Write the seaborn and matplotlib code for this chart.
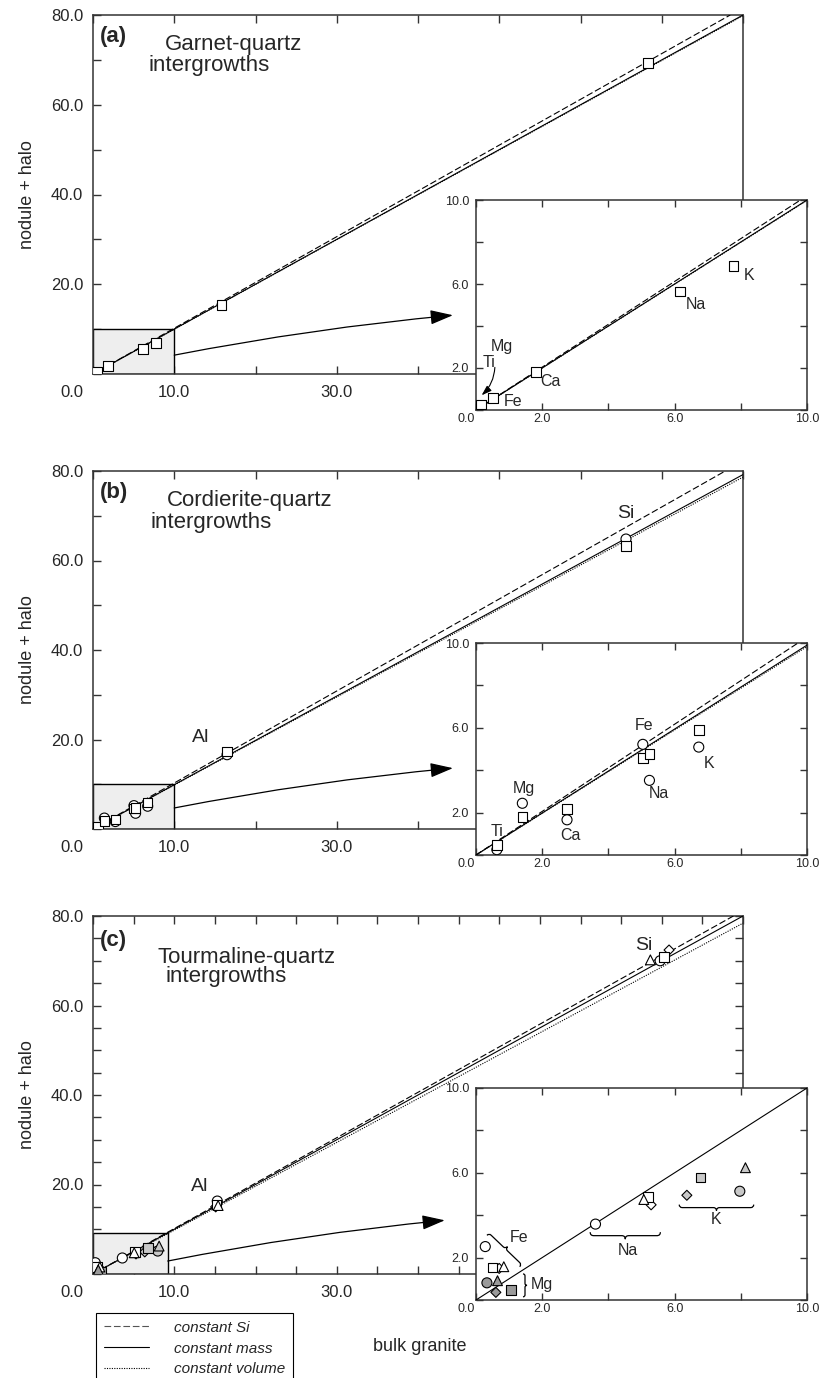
import numpy as np
import pandas as pd
import matplotlib
matplotlib.use("Agg")
import matplotlib.pyplot as plt
import seaborn as sns
from matplotlib.patches import Rectangle, PathPatch
from matplotlib.path import Path
from matplotlib.lines import Line2D
from matplotlib.ticker import MultipleLocator

sns.set_theme(style="ticks")
plt.rcParams["font.family"] = ["Liberation Sans", "DejaVu Sans"]

# (a) garnet-quartz intergrowths: bulk granite vs nodule + halo
a_elements = ["Ti", "Mg", "Fe", "Ca", "Na", "K", "Al", "Si"]
a_bulk = [0.08, 0.16, 0.51, 1.81, 6.16, 7.78, 15.8, 68.3]
a_nodule = [0.08, 0.27, 0.57, 1.81, 5.64, 6.87, 15.4, 69.3]

# (b) cordierite-quartz intergrowths, two samples (circle, square)
b_elements = ["Ti", "Mg", "Ca", "Fe", "Na", "K", "Al", "Si"]
b_bulk = [0.63, 1.40, 2.75, 5.04, 5.24, 6.73, 16.5, 65.6]
b_circle = [0.25, 2.44, 1.66, 5.22, 3.52, 5.09, 16.6, 64.8]
b_square = [0.48, 1.78, 2.16, 4.59, 4.75, 5.91, 17.3, 63.3]

# (c) tourmaline-quartz intergrowths, four samples
c_elements = ["Fe", "Mg", "Na", "K", "Al", "Si"]
c_fill = ["open", "dark", "open", "light", "open", "open"]
c_circle_x = [0.28, 0.33, 3.61, 7.97, 15.3, 69.8]
c_circle_y = [2.52, 0.81, 3.58, 5.13, 16.3, 70.0]
c_square_x = [0.50, 1.06, 5.20, 6.78, 15.2, 70.3]
c_square_y = [1.53, 0.47, 4.85, 5.77, 15.5, 70.8]
c_diamond_x = [0.70, 0.60, 5.29, 6.37, 15.1, 70.9]
c_diamond_y = [1.49, 0.36, 4.49, 4.94, 15.0, 72.4]
c_triangle_x = [0.84, 0.65, 5.07, 8.14, 15.4, 68.6]
c_triangle_y = [1.57, 0.91, 4.74, 6.24, 15.3, 70.2]

# isocon slopes: constant Si, constant mass, constant volume
a_slopes = [1.02, 1.0, 0.998]
b_slopes = [1.028, 0.99, 0.983]
c_slopes = [1.015, 1.0, 0.98]

fill_colors = {"open": "white", "dark": "#9a9a9a", "light": "#c8c8c8"}
line_styles = [(0, (6, 2.5)), "-", (0, (1, 1.2))]
legend_labels = ["constant Si", "constant mass", "constant volume"]

FW, FH = 835, 1378
fig = plt.figure(figsize=(FW / 100, FH / 100), dpi=100)


def rect(l, t, r, b):
    return [l / FW, 1 - b / FH, (r - l) / FW, (b - t) / FH]


def frame(x, y, elements, sample, fill):
    return pd.DataFrame({"x": x, "y": y, "element": elements,
                         "sample": sample, "fill": fill})


df_a = frame(a_bulk, a_nodule, a_elements, "square", "open")
df_b = pd.concat([frame(b_bulk, b_circle, b_elements, "circle", "open"),
                  frame(b_bulk, b_square, b_elements, "square", "open")])
df_c = pd.concat([
    frame(c_circle_x, c_circle_y, c_elements, "circle", c_fill),
    frame(c_square_x, c_square_y, c_elements, "square", c_fill),
    frame(c_diamond_x, c_diamond_y, c_elements, "diamond", c_fill),
    frame(c_triangle_x, c_triangle_y, c_elements, "triangle", c_fill),
])

markers = {"circle": ("o", 52), "square": ("s", 48),
           "diamond": ("D", 26), "triangle": ("^", 50)}


def draw_points(ax, df):
    for sample, sub in df.groupby("sample"):
        m, s = markers[sample]
        sns.scatterplot(data=sub, x="x", y="y", hue="fill", palette=fill_colors,
                        marker=m, s=s, edgecolor="black", linewidth=0.8,
                        legend=False, ax=ax, zorder=4)
    ax.set_xlabel("")
    ax.set_ylabel("")


def draw_lines(ax, slopes, which=(0, 1, 2), lw=0.8):
    for i in which:
        ax.axline((0, 0), slope=slopes[i], color="black", lw=lw,
                  linestyle=line_styles[i], zorder=3)


def style_spines(ax, lw=1.1):
    for s in ax.spines.values():
        s.set_linewidth(lw)
        s.set_color("#333333")
        s.set_visible(True)


def style_main(ax, fine, right):
    ax.set_xlim(0, 80)
    ax.set_ylim(0, 80)
    ax.set_xticks(np.arange(0, 81, 10))
    ax.set_xticklabels(["", "10.0", "", "30.0", "", "", "", "", ""])
    ax.set_yticks(np.arange(0, 81, 10))
    ax.set_yticklabels(["", "", "20.0", "", "40.0", "", "60.0", "", "80.0"])
    if fine:
        ax.xaxis.set_minor_locator(MultipleLocator(5))
        ax.yaxis.set_minor_locator(MultipleLocator(5))
    ax.tick_params(which="both", direction="in", length=6, width=1,
                   top=True, right=right, labelsize=12, color="#333333")
    ax.tick_params(axis="x", pad=8)
    ax.tick_params(axis="y", pad=7)
    style_spines(ax)
    ax.annotate("0.0", xy=(0, 0), xytext=(-7, -8), textcoords="offset points",
                ha="right", va="top", fontsize=12)
    ax.set_ylabel("nodule + halo", fontsize=13)
    ax.yaxis.set_label_coords(-0.088, 0.5)


def style_inset(ax):
    ax.set_xlim(0, 10)
    ax.set_ylim(0, 10)
    ax.set_xticks(np.arange(0, 11, 2))
    ax.set_xticklabels(["", "2.0", "", "6.0", "", "10.0"])
    ax.set_yticks(np.arange(0, 11, 2))
    ax.set_yticklabels(["", "2.0", "", "6.0", "", "10.0"])
    ax.tick_params(direction="in", length=5, width=1, top=True, right=True,
                   labelsize=9, color="#333333")
    ax.tick_params(axis="x", pad=2)
    ax.tick_params(axis="y", pad=5)
    style_spines(ax)
    ax.set_facecolor("white")
    ax.annotate("0.0", xy=(0, 0), xytext=(-1, -2), textcoords="offset points",
                ha="right", va="top", fontsize=9)


def draw_brace(ax, p0, p1, h):
    t = ax.transData
    a = t.transform(p0)
    b = t.transform(p1)
    u = (b - a) / np.hypot(*(b - a))
    n = np.array([-u[1], u[0]])
    r = h / 2
    m = (a + b) / 2
    verts = [a, a + n * r, a + n * r + u * r, m - u * r + n * r, m + n * r,
             m + n * h, m + n * r, m + u * r + n * r, b - u * r + n * r,
             b + n * r, b]
    codes = [Path.MOVETO, Path.CURVE3, Path.CURVE3, Path.LINETO, Path.CURVE3,
             Path.CURVE3, Path.CURVE3, Path.CURVE3, Path.LINETO, Path.CURVE3,
             Path.CURVE3]
    verts = t.inverted().transform(np.array(verts))
    ax.add_patch(PathPatch(Path(verts, codes), fill=False, lw=0.9,
                           ec="black", zorder=5))


def link(ax, start, tip):
    ax.annotate("", xy=tip, xytext=start,
                arrowprops=dict(arrowstyle="-|>,head_length=1.0,head_width=0.32",
                                connectionstyle="arc3,rad=-0.025", color="black",
                                lw=0.9, shrinkA=0, shrinkB=0, mutation_scale=14))


panels = [
    dict(main=rect(93, 15, 743, 374), inset=rect(476, 200, 807, 410),
         df=df_a, slopes=a_slopes, box=10.0, fine=False, right=False,
         tag="(a)", title=("Garnet-quartz", "intergrowths"),
         title_pos=((0.011, 0.941), (0.111, 0.919), (0.085, 0.858)),
         link=((10, 4.2), (44.3, 13.1))),
    dict(main=rect(93, 471, 743, 829), inset=rect(476, 643, 807, 855),
         df=df_b, slopes=b_slopes, box=10.0, fine=False, right=False,
         tag="(b)", title=("Cordierite-quartz", "intergrowths"),
         title_pos=((0.011, 0.939), (0.114, 0.917), (0.088, 0.856)),
         link=((10, 4.7), (44.3, 13.6))),
    dict(main=rect(93, 916, 743, 1274), inset=rect(476, 1088, 807, 1300),
         df=df_c, slopes=c_slopes, box=9.2, fine=True, right=True,
         tag="(c)", title=("Tourmaline-quartz", "intergrowths"),
         title_pos=((0.011, 0.932), (0.100, 0.885), (0.111, 0.830)),
         link=((9.2, 2.9), (43.3, 12.0))),
]

axes = []
for p in panels:
    ax = fig.add_axes(p["main"])
    ax.add_patch(Rectangle((0, 0), p["box"], p["box"], facecolor="#eeeeee",
                           edgecolor="black", lw=1, zorder=1))
    draw_lines(ax, p["slopes"])
    draw_points(ax, p["df"])
    style_main(ax, p["fine"], p["right"])
    (tx, ty), (t1x, t1y), (t2x, t2y) = p["title_pos"]
    ax.text(tx, ty, p["tag"], transform=ax.transAxes, fontsize=16,
            fontweight="bold", va="center", ha="left")
    ax.text(t1x, t1y, p["title"][0], transform=ax.transAxes, fontsize=16,
            va="center", ha="left")
    ax.text(t2x, t2y, p["title"][1], transform=ax.transAxes, fontsize=16,
            va="center", ha="left")
    link(ax, *p["link"])
    ins = fig.add_axes(p["inset"])
    axes.append((ax, ins))

# insets
ax_a, in_a = axes[0]
draw_lines(in_a, a_slopes)
draw_points(in_a, df_a)
style_inset(in_a)
for txt, xy in [("Mg", (0.79, 3.04)), ("Ti", (0.38, 2.28)), ("Fe", (1.12, 0.39)),
                ("Ca", (2.25, 1.34)), ("Na", (6.65, 5.04)), ("K", (8.24, 6.39))]:
    in_a.text(*xy, txt, fontsize=11.5, ha="center", va="center")
in_a.annotate("", xy=(0.17, 0.7), xytext=(0.57, 2.03),
              arrowprops=dict(arrowstyle="-|>,head_length=0.6,head_width=0.2",
                              connectionstyle="arc3,rad=-0.2", color="black",
                              lw=0.8, shrinkA=0, shrinkB=0, mutation_scale=10))

ax_b, in_b = axes[1]
draw_lines(in_b, b_slopes)
draw_points(in_b, df_b)
style_inset(in_b)
for txt, xy in [("Ti", (0.63, 1.13)), ("Mg", (1.46, 3.16)), ("Ca", (2.85, 0.92)),
                ("Fe", (5.09, 6.13)), ("Na", (5.51, 2.92)), ("K", (7.03, 4.31))]:
    in_b.text(*xy, txt, fontsize=11.5, ha="center", va="center")

ax_c, in_c = axes[2]
draw_lines(in_c, c_slopes, which=(1,))
draw_points(in_c, df_c)
style_inset(in_c)
for txt, xy in [("Fe", (1.29, 2.95)), ("Na", (4.59, 2.33)), ("K", (7.26, 3.79)),
                ("Mg", (1.98, 0.75))]:
    in_c.text(*xy, txt, fontsize=11.5, ha="center", va="center")
draw_brace(in_c, (0.33, 3.05), (1.32, 1.57), 6)
draw_brace(in_c, (5.57, 3.2), (3.45, 3.2), 7)
draw_brace(in_c, (8.39, 4.5), (6.14, 4.5), 6)
draw_brace(in_c, (1.42, 1.23), (1.42, 0.15), 4)

# element labels in main panels
ax_b.text(13.2, 20.5, "Al", fontsize=14, ha="center", va="center")
ax_b.text(65.6, 70.5, "Si", fontsize=14, ha="center", va="center")
ax_c.text(13.1, 19.5, "Al", fontsize=14, ha="center", va="center")
ax_c.text(67.8, 73.3, "Si", fontsize=14, ha="center", va="center")

ax_c.set_xlabel("bulk granite", fontsize=13)
ax_c.xaxis.set_label_coords((420 - 93) / 650, -0.178)

handles = [Line2D([], [], color="black" if i else "#555555", lw=0.8,
                  linestyle=line_styles[i]) for i in range(3)]
leg = fig.legend(handles, legend_labels, loc="upper left",
                 bbox_to_anchor=(96 / FW, 1 - 1313 / FH), frameon=True,
                 fancybox=False, edgecolor="black", framealpha=1,
                 prop={"style": "italic", "size": 11}, handlelength=3,
                 handletextpad=1.6, labelspacing=0.45, borderpad=0.5,
                 borderaxespad=0)
leg.get_frame().set_linewidth(0.8)

fig.savefig("out.png", dpi=100, facecolor="white")
